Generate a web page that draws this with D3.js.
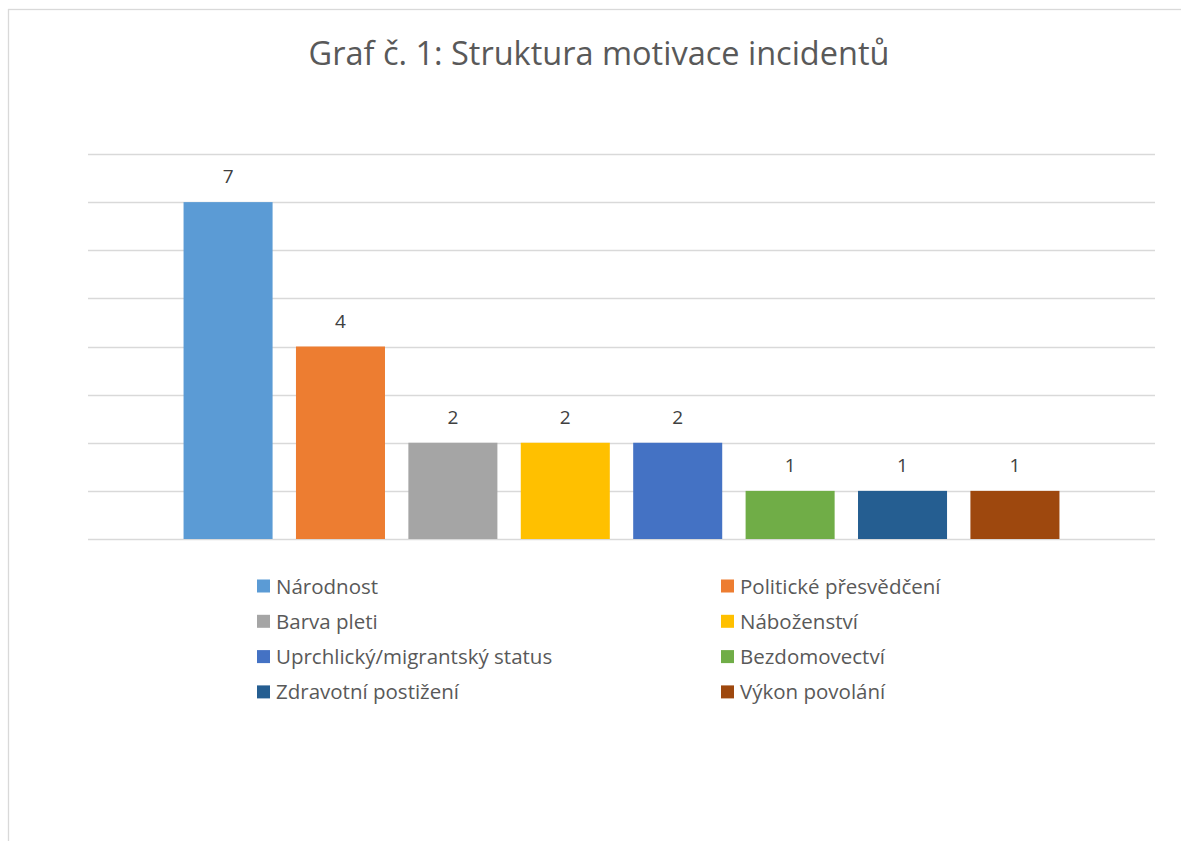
<!DOCTYPE html>
<meta charset="utf-8">
<html>
<style>
	body { margin: 0; background: #fff; }
	.grid line { stroke: #d9d9d9; stroke-width: 1.3px; }
	.label { font-family: "Open Sans", sans-serif; font-size: 19px; fill: #404040; }
	.legend text { font-family: "Open Sans", sans-serif; font-size: 20.5px; fill: #595959; }
</style>
<body>
	<script src="https://cdn.jsdelivr.net/npm/d3@7"></script>
	<script type="text/javascript">
		var categories = ["Národnost", "Politické přesvědčení", "Barva pleti", "Náboženství",
			"Uprchlický/migrantský status", "Bezdomovectví", "Zdravotní postižení", "Výkon povolání"];
		var values = [7, 4, 2, 2, 2, 1, 1, 1];
		var colors = ["#5B9BD5", "#ED7D31", "#A5A5A5", "#FFC000", "#4472C4", "#70AD47", "#255E91", "#9E480E"];
		var yTicks = [0, 1, 2, 3, 4, 5, 6, 7, 8];
		var title = "Graf č. 1: Struktura motivace incidentů";

		var width = 1181,
			height = 841;

		var svg = d3.select("body")
			.append("svg")
			.attr("width", width)
			.attr("height", height);

		// chart frame (cut at right/bottom edge like the screenshot)
		svg.append("rect")
			.attr("x", 8.5)
			.attr("y", 9.5)
			.attr("width", 1200)
			.attr("height", 900)
			.attr("fill", "none")
			.attr("stroke", "#d9d9d9")
			.attr("stroke-width", 1.3);

		svg.append("text")
			.attr("x", 599)
			.attr("y", 65)
			.attr("text-anchor", "middle")
			.style("font-family", "'Open Sans', sans-serif")
			.style("font-size", "32.5px")
			.style("fill", "#595959")
			.text(title);

		//scales
		var x = d3.scaleBand()
			.domain(categories)
			.range([88, 1155])
			.paddingInner(0.208)
			.paddingOuter(0.85);

		var y = d3.scaleLinear()
			.domain([0, 8])
			.range([539, 154]);

		//gridlines
		svg.append("g")
			.attr("class", "grid")
			.selectAll("line")
			.data(yTicks)
			.enter().append("line")
			.attr("x1", 88)
			.attr("x2", 1155)
			.attr("y1", function (d) { return Math.round(y(d)) + 0.5; })
			.attr("y2", function (d) { return Math.round(y(d)) + 0.5; });

		//bars
		svg.selectAll(".bar")
			.data(values)
			.enter().append("rect")
			.attr("class", "bar")
			.attr("x", function (d, i) { return x(categories[i]); })
			.attr("y", function (d) { return y(d); })
			.attr("width", x.bandwidth())
			.attr("height", function (d) { return y(0) - y(d); })
			.attr("fill", function (d, i) { return colors[i]; });

		//value labels
		svg.selectAll(".label")
			.data(values)
			.enter().append("text")
			.attr("class", "label")
			.attr("x", function (d, i) { return x(categories[i]) + x.bandwidth() / 2; })
			.attr("y", function (d) { return y(d) - 19; })
			.attr("text-anchor", "middle")
			.text(function (d) { return d; });

		//legend, two columns
		var legend = svg.append("g").attr("class", "legend");
		var item = legend.selectAll("g")
			.data(categories)
			.enter().append("g")
			.attr("transform", function (d, i) {
				var col = i % 2, row = Math.floor(i / 2);
				return "translate(" + (col ? 721 : 257) + "," + (586 + row * 35.3) + ")";
			});

		item.append("rect")
			.attr("x", 0)
			.attr("y", -6.5)
			.attr("width", 13)
			.attr("height", 13)
			.attr("fill", function (d, i) { return colors[i]; });

		item.append("text")
			.attr("x", 19)
			.attr("y", 7.5)
			.text(function (d) { return d; });
	</script>
</body>
</html>
